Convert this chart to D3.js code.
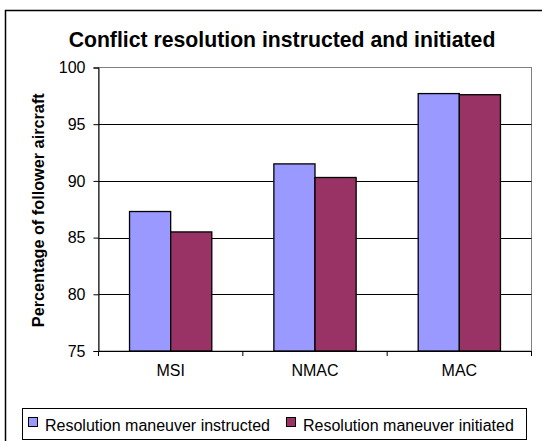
<!DOCTYPE html>
<html>
<head>
<meta charset="utf-8">
<script src="https://cdn.jsdelivr.net/npm/d3@7"></script>
<style>
  html, body { margin: 0; padding: 0; background: #fff; }
  svg { display: block; font-family: Arial, "Liberation Sans", sans-serif; }
</style>
</head>
<body>
<svg id="chart" width="542" height="441"></svg>
<script>
const title = "Conflict resolution instructed and initiated";
const yAxisTitle = "Percentage of follower aircraft";
const categories = ["MSI", "NMAC", "MAC"];
const seriesNames = ["Resolution maneuver instructed", "Resolution maneuver initiated"];
const instructed = [87.3, 91.5, 97.7];
const initiated = [85.5, 90.3, 97.6];
const yTicks = [75, 80, 85, 90, 95, 100];
const colors = ["#9999FF", "#993366"];

const svg = d3.select("#chart");
const plot = { left: 98.5, top: 67.5, right: 531.5, bottom: 351 };

function fit(sel, base, target) {
  sel.attr("font-size", base + "px");
  const w = sel.node().getComputedTextLength();
  if (w > 0) sel.attr("font-size", (base * target / w).toFixed(2) + "px");
}

// outer chart frame
svg.append("rect")
  .attr("x", 5.5).attr("y", 10.5).attr("width", 545).attr("height", 445)
  .attr("fill", "#fff").attr("stroke", "#000").attr("stroke-width", 1.5);

// title
const t = svg.append("text")
  .attr("x", 282).attr("y", 46.5)
  .attr("text-anchor", "middle")
  .attr("font-weight", "bold")
  .text(title);
fit(t, 18, 427);

const y = d3.scaleLinear().domain([75, 100]).range([plot.bottom, plot.top]);
const x0 = d3.scaleBand().domain(categories).range([plot.left, plot.right]).padding(0);
const bw = x0.bandwidth();
const x1 = d3.scaleBand().domain(seriesNames).range([bw * 0.215, bw * 0.785]).padding(0);

// plot area border
svg.append("rect")
  .attr("x", plot.left).attr("y", plot.top)
  .attr("width", plot.right - plot.left).attr("height", plot.bottom - plot.top)
  .attr("fill", "#fff").attr("stroke", "#808080").attr("stroke-width", 1);

// gridlines
svg.append("g").selectAll("line")
  .data(yTicks.filter(t => t > 75 && t < 100))
  .join("line")
  .attr("x1", plot.left).attr("x2", plot.right)
  .attr("y1", d => Math.round(y(d)) + 0.5).attr("y2", d => Math.round(y(d)) + 0.5)
  .attr("stroke", "#000").attr("stroke-width", 1);

// bars
const seriesData = [instructed, initiated];
const groups = svg.append("g").selectAll("g")
  .data(categories)
  .join("g")
  .attr("transform", d => `translate(${x0(d)},0)`);
groups.selectAll("rect")
  .data((c, i) => seriesNames.map((s, j) => ({ s, j, v: seriesData[j][i] })))
  .join("rect")
  .attr("x", d => x1(d.s))
  .attr("y", d => y(d.v))
  .attr("width", x1.bandwidth())
  .attr("height", d => plot.bottom - y(d.v))
  .attr("fill", d => colors[d.j])
  .attr("stroke", "#000").attr("stroke-width", 1.3);

// y axis
const yAxis = svg.append("g")
  .attr("transform", `translate(${plot.left},0)`)
  .call(d3.axisLeft(y).tickValues(yTicks).tickSize(5).tickPadding(8).tickFormat(d3.format("d")));
yAxis.select(".domain").attr("stroke", "#000");
yAxis.selectAll(".tick line").attr("stroke", "#000");
yAxis.selectAll("text").attr("font-size", "16px").attr("fill", "#000")
  .attr("font-family", "Arial, 'Liberation Sans', sans-serif");

// x axis
const xAxis = svg.append("g")
  .attr("transform", `translate(0,${plot.bottom})`)
  .call(d3.axisBottom(x0).tickSize(0).tickPadding(14));
xAxis.select(".domain").attr("stroke", "#000");
xAxis.selectAll("text").attr("font-size", "16px").attr("fill", "#000")
  .attr("font-family", "Arial, 'Liberation Sans', sans-serif");
// category boundary ticks
const boundaries = categories.map(c => x0(c)).concat([plot.right]);
svg.append("g").selectAll("line")
  .data(boundaries)
  .join("line")
  .attr("x1", d => d).attr("x2", d => d)
  .attr("y1", plot.bottom).attr("y2", plot.bottom + 5)
  .attr("stroke", "#000");

// y axis title
const yt = svg.append("text")
  .attr("transform", `translate(44,${(plot.top + plot.bottom) / 2 + 1}) rotate(-90)`)
  .attr("text-anchor", "middle")
  .attr("font-weight", "bold")
  .text(yAxisTitle);
fit(yt, 14, 234);

// legend
const lg = svg.append("g");
lg.append("rect")
  .attr("x", 22.5).attr("y", 408.5).attr("width", 504).attr("height", 31)
  .attr("fill", "#fff").attr("stroke", "#000").attr("stroke-width", 1);
const legendX = [28, 286];
const items = lg.selectAll("g.item")
  .data(seriesNames)
  .join("g").attr("class", "item")
  .attr("transform", (d, i) => `translate(${legendX[i]},0)`);
items.append("rect")
  .attr("x", 0.5).attr("y", 417.5).attr("width", 9).attr("height", 9)
  .attr("fill", (d, i) => colors[i]).attr("stroke", "#000");
const lt = items.append("text")
  .attr("x", 17).attr("y", 430.5)
  .text(d => d);
fit(d3.select(lt.nodes()[0]), 16, 225);
lt.attr("font-size", d3.select(lt.nodes()[0]).attr("font-size"));
</script>
</body>
</html>
